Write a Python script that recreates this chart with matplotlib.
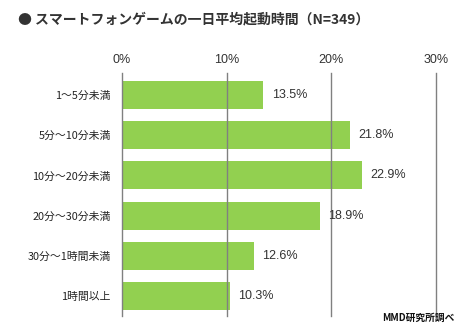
import matplotlib
matplotlib.use("Agg")
import matplotlib.pyplot as plt

plt.rcParams['font.family'] = ['Noto Sans CJK JP', 'DejaVu Sans']

categories = ["1～5分未満", "5分～10分未満", "10分～20分未満", "20分～30分未満", "30分～1時間未満", "1時間以上"]
values = [13.5, 21.8, 22.9, 18.9, 12.6, 10.3]
xticks = [0, 10, 20, 30]
xtick_labels = ["0%", "10%", "20%", "30%"]
title = "● スマートフォンゲームの一日平均起動時間（N=349）"
source = "MMD研究所調べ"

W, H = 477, 335
fig = plt.figure(figsize=(W/100, H/100), dpi=100)
ax = fig.add_axes([122/W, 1-316/H, (436-122)/W, (316-73)/H])

pos = list(range(len(categories)))
ax.barh(pos, values, height=0.7, color="#92D050", zorder=1)
ax.set_xlim(0, 30)
ax.set_ylim(5.5, -0.55)
for x in xticks:
    ax.axvline(x, color="#808080", lw=1, zorder=2, clip_on=False)
for s in ax.spines.values():
    s.set_visible(False)
ax.set_xticks(xticks)
ax.set_xticklabels(xtick_labels, fontsize=9, color="#333333", family=["Liberation Sans"])
ax.xaxis.tick_top()
ax.tick_params(axis='x', length=0, pad=5)
ax.set_yticks(pos)
ax.set_yticklabels(categories, fontsize=7.8, color="#222222")
ax.tick_params(axis='y', length=0, pad=8)

for p, v in zip(pos, values):
    ax.annotate(f"{v}%", (v, p), xytext=(6, 0), textcoords="offset points",
                va="center", ha="left", fontsize=9, color="#333333", zorder=3,
                family=["Liberation Sans"])

fig.text(18/W, 1-19/H, title, fontsize=10, fontweight="bold", color="#333333", va="center", ha="left")
fig.text(455/W, 1-318/H, source, fontsize=7, fontweight="bold", color="#111111", va="center", ha="right")

fig.savefig("out.png", dpi=100)
